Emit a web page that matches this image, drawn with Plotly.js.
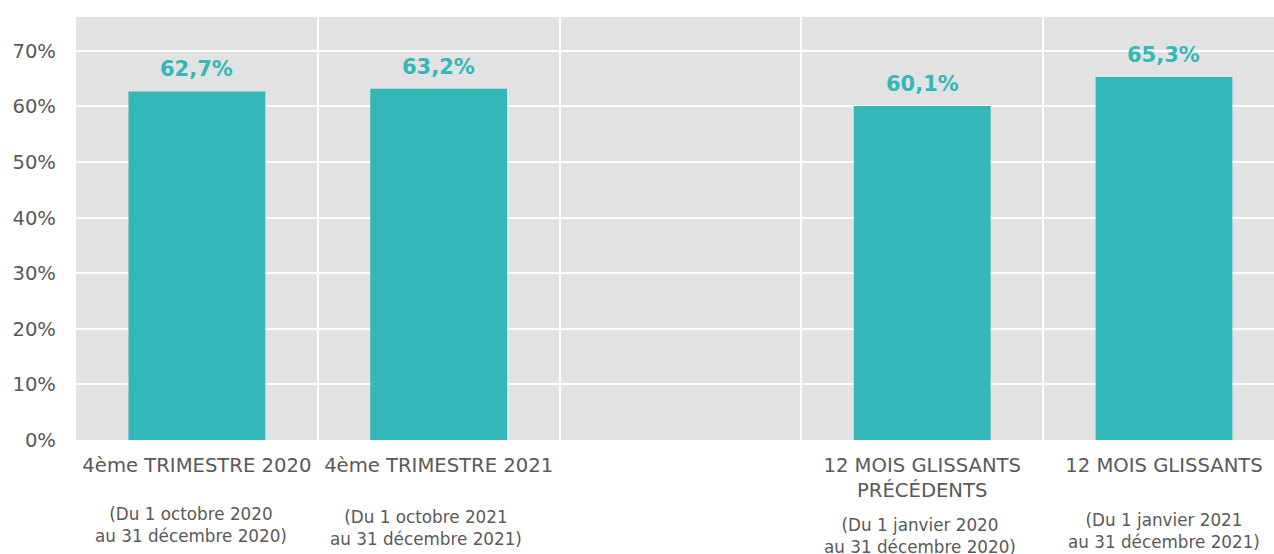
<!DOCTYPE html>
<html>
<head>
<meta charset="utf-8">
<script src="https://cdn.plot.ly/plotly-3.0.1.min.js"></script>
<style>
html, body { margin: 0; padding: 0; background: #ffffff; overflow: hidden; }
#chart { width: 1274px; height: 554px; }
</style>
</head>
<body>
<div id="chart"></div>
<script>
// ---- data ----
var categories = [
  "4ème TRIMESTRE 2020",
  "4ème TRIMESTRE 2021",
  " ",
  "12 MOIS GLISSANTS<br>PRÉCÉDENTS",
  "12 MOIS GLISSANTS"
];
var values = [0.627, 0.632, null, 0.601, 0.653];
var subLabels = [
  "(Du 1 octobre 2020<br>au 31 décembre 2020)",
  "(Du 1 octobre 2021<br>au 31 décembre 2021)",
  "",
  "(Du 1 janvier 2020<br>au 31 décembre 2020)",
  "(Du 1 janvier 2021<br>au 31 décembre 2021)"
];
var yTickVals = [0, 0.1, 0.2, 0.3, 0.4, 0.5, 0.6, 0.7];

// ---- layout tweaks (not data) ----
var subShiftX = [-6, -13, 0, -2, 0];
var subShiftY = [-85, -88, 0, -96, -91];

var teal = "#33B7B8";
var grey = "#595959";
var font = "DejaVu Sans, Verdana, sans-serif";

var trace = {
  type: "bar",
  x: categories,
  y: values,
  marker: { color: teal },
  hoverinfo: "none"
};

var annotations = [];
categories.forEach(function (c, i) {
  if (values[i] !== null) {
    annotations.push({
      xref: "x", yref: "y", x: c, y: values[i],
      text: (values[i] * 100).toFixed(1).replace(".", ",") + "%",
      showarrow: false, yanchor: "middle", yshift: 22,
      font: { family: font, size: 21, color: teal, weight: "bold" }
    });
  }
  if (subLabels[i]) {
    annotations.push({
      xref: "x", yref: "paper", x: c, y: 0,
      text: subLabels[i],
      showarrow: false, yanchor: "middle", xanchor: "center",
      xshift: subShiftX[i], yshift: subShiftY[i],
      font: { family: font, size: 16.8, color: grey }
    });
  }
});

var layout = {
  width: 1274,
  height: 554,
  margin: { l: 76, r: 0, t: 17, b: 114 },
  paper_bgcolor: "#ffffff",
  plot_bgcolor: "#E2E2E2",
  bargap: 0.434,
  showlegend: false,
  font: { family: font, color: grey },
  xaxis: {
    type: "category",
    range: [-0.5, 4.455],
    tickson: "boundaries",
    ticks: "",
    showgrid: true,
    gridcolor: "#ffffff",
    gridwidth: 2,
    zeroline: false,
    showline: false,
    tickfont: { family: font, size: 19.6, color: grey },
    ticklabelstandoff: 11,
    fixedrange: true
  },
  yaxis: {
    range: [0, 0.761],
    tickvals: yTickVals,
    tickformat: ".0%",
    ticks: "",
    showgrid: true,
    gridcolor: "#ffffff",
    gridwidth: 2,
    zeroline: false,
    showline: false,
    tickfont: { family: font, size: 19.6, color: grey },
    ticklabelstandoff: 19,
    fixedrange: true
  },
  annotations: annotations
};

Plotly.newPlot("chart", [trace], layout, { displayModeBar: false, staticPlot: true });
</script>
</body>
</html>
